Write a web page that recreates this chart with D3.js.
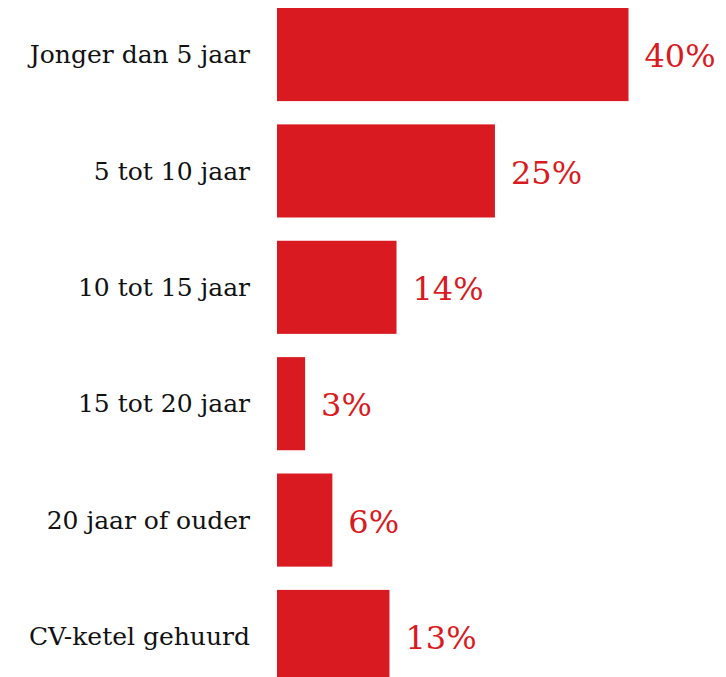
<!DOCTYPE html>
<html>
<head>
<meta charset="utf-8">
<script src="https://cdn.jsdelivr.net/npm/d3@7"></script>
<style>
  body { margin: 0; background: #fff; }
  svg { display: block; }
</style>
</head>
<body>
<div id="chart"></div>
<script>
// Leeftijd CV-ketel (share of respondents)
const categories = ["Jonger dan 5 jaar", "5 tot 10 jaar", "10 tot 15 jaar", "15 tot 20 jaar", "20 jaar of ouder", "CV-ketel gehuurd"];
const values = [40, 24.8, 13.6, 3.2, 6.3, 12.8];
const valueLabels = ["40%", "25%", "14%", "3%", "6%", "13%"];

const width = 726, height = 677;
const left = 277;
const barColor = "#d91a21";

const svg = d3.select("#chart").append("svg")
    .attr("width", width)
    .attr("height", height);

const x = d3.scaleLinear()
    .domain([0, 40])
    .range([left, 628.5]);

const y = d3.scaleBand()
    .domain(categories)
    .range([8, 683])
    .paddingInner(0.2)
    .paddingOuter(0);

// bars
svg.selectAll(".bar")
    .data(values)
    .enter().append("rect")
    .attr("class", "bar")
    .attr("x", x(0))
    .attr("y", (d, i) => y(categories[i]))
    .attr("width", d => x(d) - x(0))
    .attr("height", y.bandwidth())
    .attr("fill", barColor);

// category labels on the left
svg.selectAll(".cat")
    .data(categories)
    .enter().append("text")
    .attr("class", "cat")
    .attr("x", 250)
    .attr("y", d => y(d) + y.bandwidth() / 2)
    .attr("dy", "0.35em")
    .attr("text-anchor", "end")
    .style("font-family", "'DejaVu Serif', serif")
    .style("font-size", "25px")
    .style("fill", "#111")
    .text(d => d);

// value labels
svg.selectAll(".val")
    .data(values)
    .enter().append("text")
    .attr("class", "val")
    .attr("x", d => x(d) + 16)
    .attr("y", (d, i) => y(categories[i]) + y.bandwidth() / 2)
    .attr("dy", "0.4em")
    .style("font-family", "'DejaVu Serif', serif")
    .style("font-size", "32px")
    .style("fill", barColor)
    .text((d, i) => valueLabels[i]);
</script>
</body>
</html>
